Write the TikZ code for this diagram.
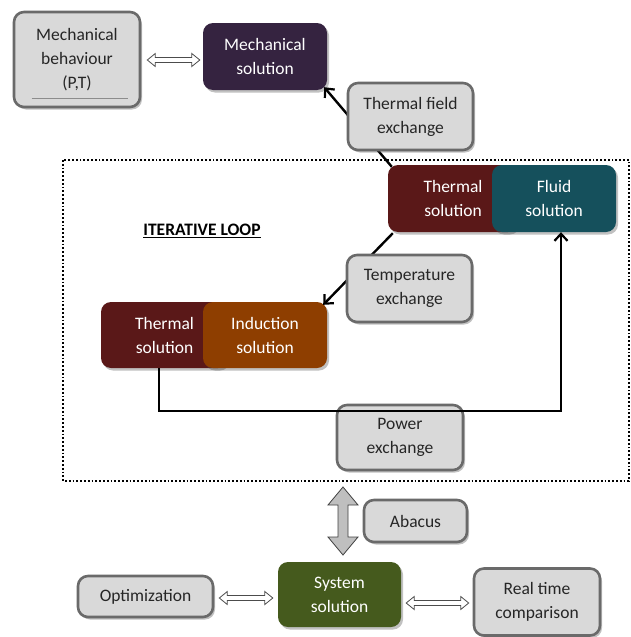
\documentclass[tikz,border=0pt]{standalone}
\usepackage{fontspec}
\setmainfont{Carlito}
\usetikzlibrary{calc,arrows.meta,shadows}
\definecolor{gfill}{HTML}{D9D9D9}
\definecolor{gline}{HTML}{6A6A6A}
\definecolor{cpurple}{HTML}{352340}
\definecolor{cred}{HTML}{5A1818}
\definecolor{cteal}{HTML}{15505C}
\definecolor{corange}{HTML}{8E3E00}
\definecolor{cgreen}{HTML}{455A1D}
\newcommand{\harr}[2]{%
 \draw[harrow] let \p1=(#1), \p2=(#2) in
 (\x1,\y1) -- (\x1+8pt,\y1+6.5pt) -- (\x1+8pt,\y1+2.5pt) -- (\x2-8pt,\y1+2.5pt) -- (\x2-8pt,\y1+6.5pt)
 -- (\x2,\y1) -- (\x2-8pt,\y1-6.5pt) -- (\x2-8pt,\y1-2.5pt) -- (\x1+8pt,\y1-2.5pt) -- (\x1+8pt,\y1-6.5pt) -- cycle;}
\newcommand{\varr}[2]{%
 \draw[varrow] let \p1=(#1), \p2=(#2) in
 (\x1,\y1) -- (\x1+15pt,\y1-18pt) -- (\x1+5pt,\y1-18pt) -- (\x1+5pt,\y2+18pt) -- (\x1+15pt,\y2+18pt)
 -- (\x1,\y2) -- (\x1-15pt,\y2+18pt) -- (\x1-5pt,\y2+18pt) -- (\x1-5pt,\y1-18pt) -- (\x1-15pt,\y1-18pt) -- cycle;}
\tikzset{
 box/.style={rectangle, rounded corners=10pt, align=center, inner sep=2pt,
   font=\fontsize{17.5}{24}\selectfont,
   drop shadow={shadow xshift=2pt, shadow yshift=-2.5pt, opacity=0.35, fill=black!70}},
 graybox/.style={box, fill=gfill, draw=gline, line width=2.6pt, text=black!85},
 colbox/.style={box, text=white},
 conn/.style={draw=black, line width=2.4pt, -{Straight Barb[length=7pt,width=13pt,line width=2.2pt]}},
 harrow/.style={fill=white, draw=black!70, line width=0.8pt, line join=miter},
 varrow/.style={fill=black!25, draw=black!75, line width=0.8pt, line join=miter},
}
\begin{document}
\begin{tikzpicture}[x=1pt,y=-1pt]
\useasboundingbox (0,0) rectangle (631,637);

% iterative loop frame
\draw[line width=1.8pt, dotted] (63,160) rectangle (629,481);
\node[font=\fontsize{17.5}{20}\selectfont\bfseries] (il) at (202,231) {\underline{ITERATIVE LOOP}};

% colored solution boxes
\node[colbox, fill=cpurple, minimum width=124pt, minimum height=67pt] (ms) at (265,56.5) {Mechanical\\solution};
\node[colbox, fill=cred, minimum width=130pt, minimum height=67pt] (ts1) at (453,198.5) {Thermal\\solution};
\node[colbox, fill=cteal, minimum width=124pt, minimum height=67pt] (fl) at (554,198.5) {Fluid\\solution};
\node[colbox, fill=cred, minimum width=127pt, minimum height=66pt] (ts2) at (164.5,335) {Thermal\\solution};
\node[colbox, fill=corange, minimum width=124pt, minimum height=66pt] (ind) at (265,335) {Induction\\solution};
\node[colbox, fill=cgreen, minimum width=123pt, minimum height=65pt] (sys) at (339.5,594.5) {System\\solution};

% connectors behind the label boxes
\draw[conn] ($(ts1.north west)+(4,2)$) -- ($(ms.south east)+(-3,-3)$);
\draw[conn] ($(ts1.south west)+(5,1)$) -- ($(ind.north east)+(-4,3)$);

% gray boxes
\node[graybox, minimum width=126pt, minimum height=95pt] (mb) at (77,59.5) {Mechanical\\behaviour\\(P,T)};
\draw[black!45, line width=0.5pt] ($(mb.south west)+(19,-10)$) coordinate (ula) -- ($(mb.south east)+(-13,-10)$) coordinate (ulb);
\node[graybox, minimum width=125pt, minimum height=67pt] (tfe) at (410.5,116.5) {Thermal field\\exchange};
\node[graybox, minimum width=125pt, minimum height=67pt] (te) at (409.5,288.5) {Temperature\\exchange};
\node[graybox, minimum width=126pt, minimum height=65pt] (pe) at (400,437.5) {Power\\exchange};
\node[graybox, minimum width=103pt, minimum height=42pt] (ab) at (415.5,521) {Abacus};
\node[graybox, minimum width=135pt, minimum height=41pt] (opt) at (145.5,596.5) {Optimization};
\node[graybox, minimum width=126pt, minimum height=67pt] (rt) at (537,602) {Real time\\comparison};

% power loop line (over the power exchange box)
\coordinate (loopy) at (0,411);
\draw[conn] ([xshift=-5.5pt]ts2.south) -- ([xshift=-5.5pt]ts2.south |- loopy) -| ([xshift=7pt]fl.south);

% hollow double arrows
\harr{$(mb.east)+(6,0.5)$}{$(ms.west)+(-3,0)$}
\harr{$(opt.east)+(5,1.5)$}{$(sys.west)+(-5,0)$}
\harr{$(sys.east)+(5,8.5)$}{$(rt.west)+(-4,0)$}
\coordinate (abt) at (343,487);
\coordinate (abb) at (343,555);
\varr{abt}{abb}
\end{tikzpicture}
\end{document}
